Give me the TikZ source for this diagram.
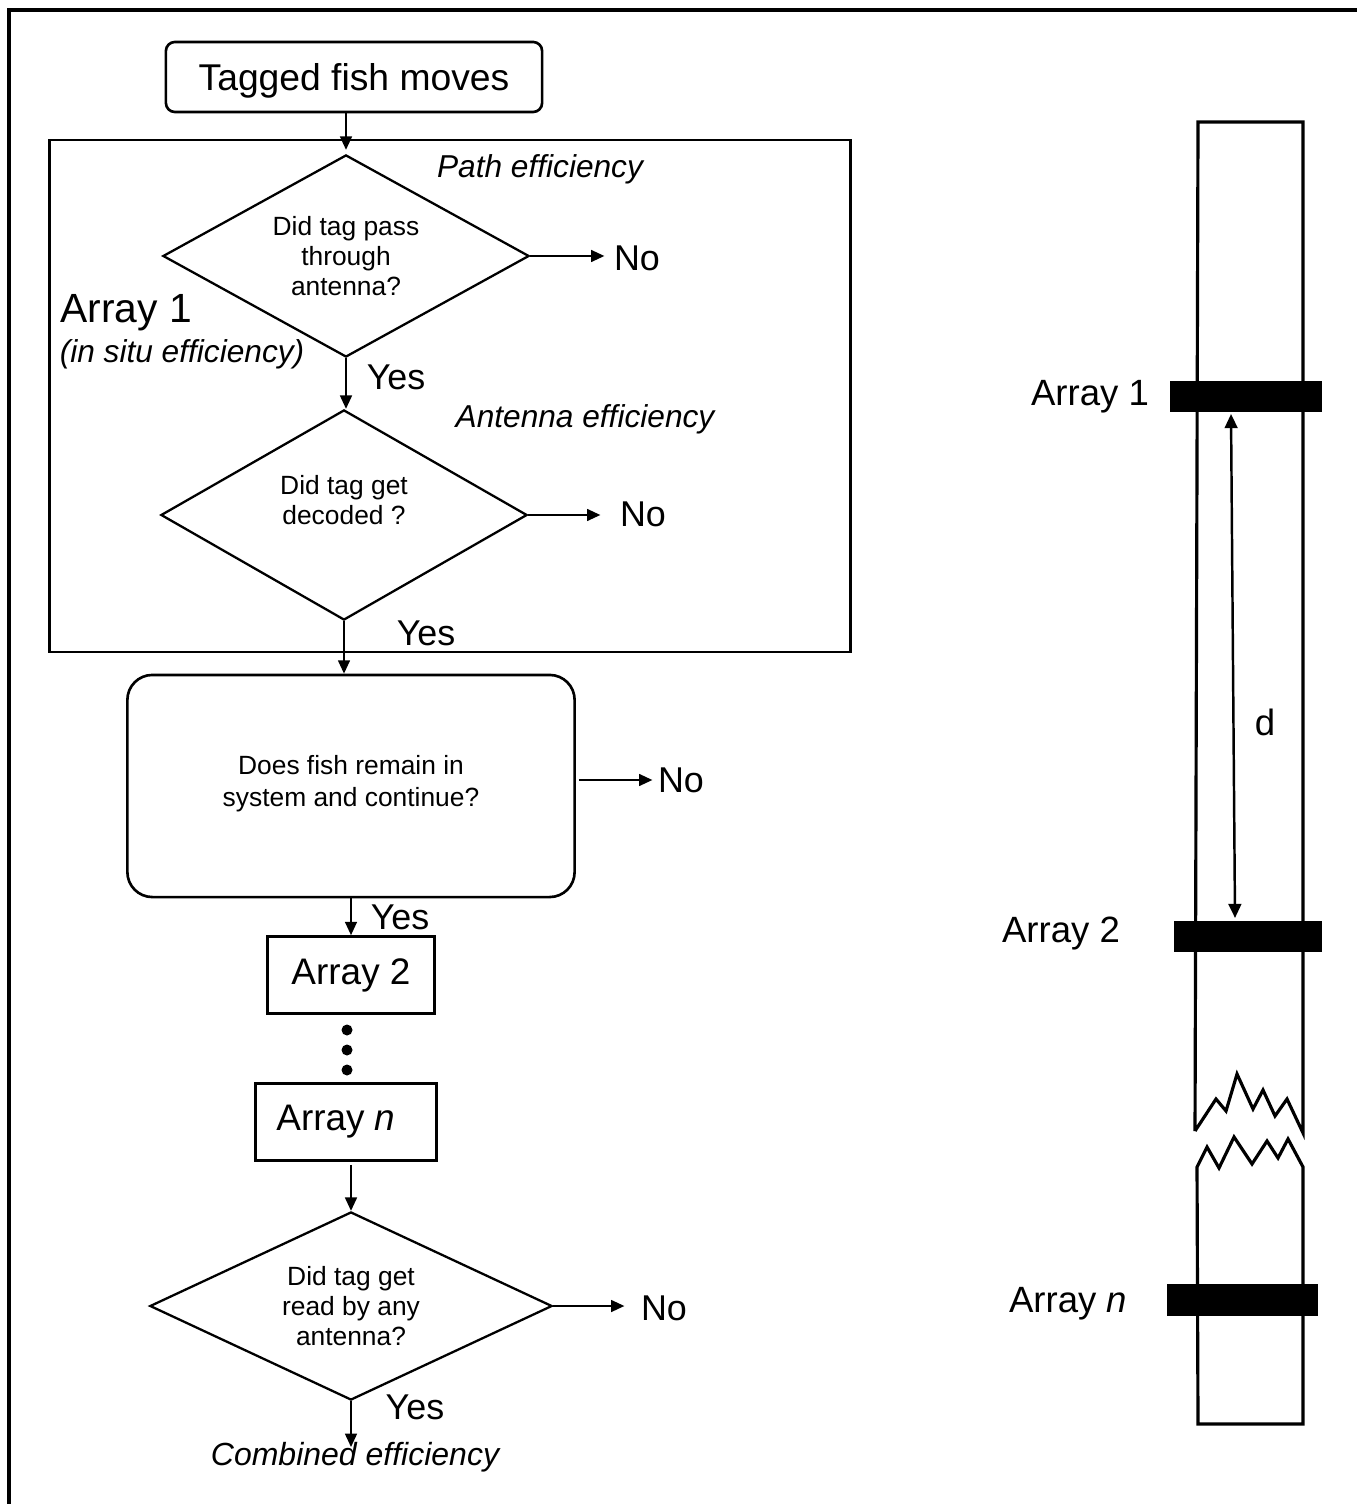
\documentclass[tikz,border=0pt]{standalone}
\usepackage{fontspec}
\setmainfont{Liberation Sans}
\usetikzlibrary{shapes.geometric,arrows.meta}
\tikzset{
  lbl/.style={inner sep=0pt, font=\fontsize{10.2}{12}\selectfont},
  dia/.style={draw, line width=0.65pt, diamond, shape aspect=2, inner sep=0pt, align=center,
              font=\fontsize{7.5}{8.6}\selectfont},
  plainbox/.style={draw, line width=0.75pt, inner sep=0pt, font=\fontsize{10.5}{12}\selectfont},
  arr/.style={line width=0.5pt, -{Triangle[length=3.8pt,width=3.4pt]}},
  colline/.style={line width=0.9pt, line join=miter},
  bar/.style={fill=black, draw=none, inner sep=0pt}
}
\begin{document}
\begin{tikzpicture}[x=0.01cm, y=-0.01cm]
\useasboundingbox (0,0) rectangle (1357,1504);
% outer frame (top and left edges)
\draw[line width=1.1pt] (9,1504) -- (9,10) -- (1357,10);

% ---------- flowchart ----------
\node[plainbox, rounded corners=0.09cm, minimum width=3.76cm, minimum height=0.70cm,
      text height=0.30cm, text depth=0.03cm,
      font=\fontsize{10.6}{12}\selectfont] (start) at (354,77) {Tagged fish moves};
\node[draw, line width=0.75pt, minimum width=8.0cm, minimum height=5.12cm, inner sep=0pt] (box1) at (450,396) {};

\node[dia, minimum width=3.66cm, minimum height=2.02cm] (d1) at (346,256)
  {Did tag pass\\through\\antenna?};
\node[dia, minimum width=3.66cm, minimum height=2.10cm] (d2) at (344,515)
  {Did tag get\\decoded ?\\\mbox{}};
\node[plainbox, rounded corners=0.25cm, minimum width=4.47cm, minimum height=2.22cm,
      align=center, font=\fontsize{7.5}{9}\selectfont] (q) at (351,786)
  {Does fish remain in\\system and continue?\\[-0.21cm]\mbox{}};
\node[plainbox, minimum width=1.67cm, minimum height=0.77cm] (a2) at (351,975) {Array 2};
\node[plainbox, minimum width=1.81cm, minimum height=0.77cm] (an) at (346,1122) {Array \textit{n}\hspace*{0.2cm}};
\node[dia, minimum width=4.02cm, minimum height=1.88cm] (d3) at (351,1306)
  {Did tag get\\read by any\\antenna?};

% labels
\node[inner sep=0pt, font=\itshape\fontsize{9}{10}\selectfont] (pe) at (540,169) {Path efficiency};
\node[inner sep=0pt, font=\itshape\fontsize{9}{10}\selectfont] (ae) at (585,419) {Antenna efficiency};
\node[inner sep=0pt, font=\fontsize{11.6}{13}\selectfont] (arr1) at (126,313) {Array 1};
\node[inner sep=0pt, font=\itshape\fontsize{9}{10}\selectfont] (insitu) at (182,354) {(in situ efficiency)};
\node[inner sep=0pt, font=\itshape\fontsize{9.1}{11}\selectfont] (comb) at (355,1457) {Combined efficiency};

\node[lbl] (no1) at (637,258) {No};
\node[lbl] (no2) at (643,514) {No};
\node[lbl] (no3) at (681,780) {No};
\node[lbl] (no4) at (664,1308) {No};
\node[lbl] (y1) at (396,377) {Yes};
\node[lbl] (y2) at (426,633) {Yes};
\node[lbl] (y3) at (400,917) {Yes};
\node[lbl] (y4) at (415,1407) {Yes};

% connectors
\draw[arr] (start.south -| d1.north) -- ([yshift=0.04cm]d1.north);
\draw[arr] (d1.south) -- (d1.south |- d2.north);
\draw[arr] (d2.south) -- (d2.south |- q.north);
\draw[arr] (q.south) -- (a2.north);
\draw[arr] (d3.north |- an.south) ++(0,3) -- (d3.north);
\coordinate (combtip) at (351,1447);
\draw[arr] (d3.south) -- (combtip);

\draw[arr, shorten >=0.09cm] (d1.east) -- (d1.east -| no1.west);
\draw[arr, shorten >=0.19cm] (d2.east) -- (d2.east -| no2.west);
\draw[arr, shorten >=0.05cm] ([xshift=0.03cm]q.east |- no3.west) -- (no3.west);
\draw[arr, shorten >=0.16cm] (d3.east) -- (d3.east -| no4.west);

% dots
\foreach \yy in {1030,1050,1070} \fill (347,\yy) circle (5.5);

% ---------- river column ----------
\draw[colline] (1195,1131) -- (1198,122) -- (1303,122) -- (1303,1133)
  -- (1287,1099) -- (1275,1116) -- (1263,1090) -- (1253,1109) -- (1237,1074)
  -- (1226,1111) -- (1216,1099) -- (1195,1131);
\draw[colline] (1197,1167) -- (1207,1147) -- (1219,1168) -- (1234,1137) -- (1252,1164)
  -- (1267,1141) -- (1278,1158) -- (1288,1139) -- (1303,1167) -- (1303,1424)
  -- (1198,1424) -- cycle;

\node[bar, minimum width=1.52cm, minimum height=0.31cm] (bar1) at (1246,396.5) {};
\node[bar, minimum width=1.48cm, minimum height=0.31cm] (bar2) at (1248,936.5) {};
\node[bar, minimum width=1.51cm, minimum height=0.32cm] (barn) at (1242.5,1300) {};

\node[inner sep=0pt, font=\fontsize{10.4}{12}\selectfont] (r1) at (1090,397) {Array 1};
\node[inner sep=0pt, font=\fontsize{10.4}{12}\selectfont] (r2) at (1061,934) {Array 2};
\node[inner sep=0pt, font=\fontsize{10.4}{12}\selectfont] (rn) at (1068,1304) {Array \textit{n}};
\node[inner sep=0pt, font=\fontsize{10.4}{12}\selectfont] (dl) at (1265,722) {d};

\coordinate (dtop) at (1231,414);
\coordinate (dbot) at (1235,918);
\draw[line width=0.7pt, {Triangle[length=4pt,width=3.6pt]}-{Triangle[length=4pt,width=3.6pt]}] (dtop) -- (dbot);
\end{tikzpicture}
\end{document}
